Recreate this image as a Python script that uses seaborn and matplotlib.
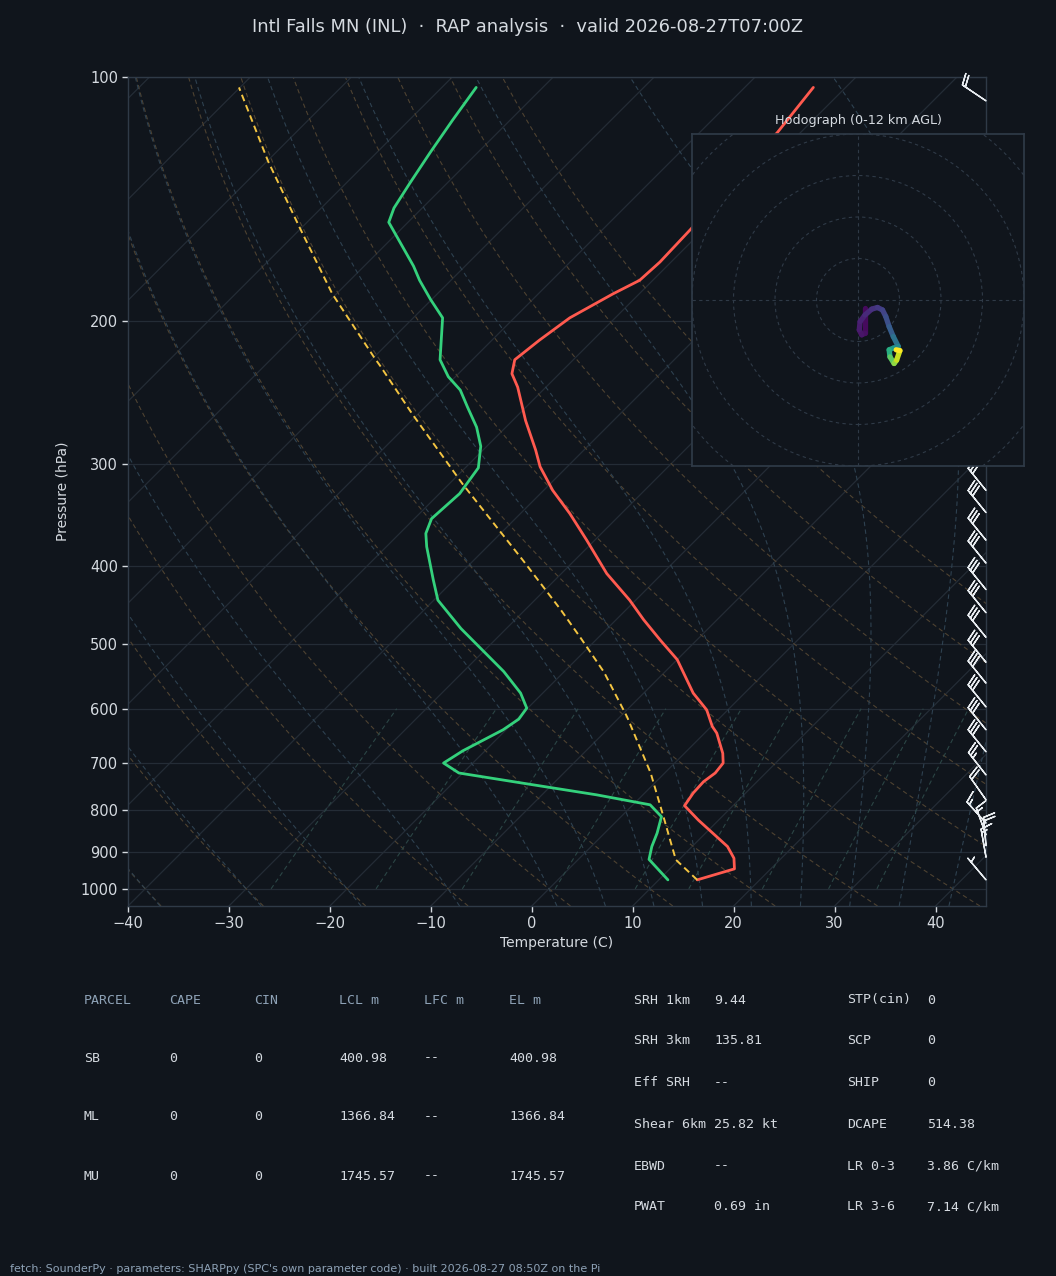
import numpy as np
import pandas as pd
import matplotlib
matplotlib.use("Agg")
import matplotlib.pyplot as plt
import seaborn as sns
from matplotlib.collections import LineCollection
from matplotlib.patches import Circle
from matplotlib.transforms import blended_transform_factory

# ---- colours ----
BG = "#10151c"
SPINE = "#2f3a47"
GRID = "#242c36"
DRY = "#4e4231"
MOIST = "#2e4150"
MIXING = "#2b4545"
TXT = "#d5dae0"
HEAD = "#8ea2b6"
RED = "#ff5a4f"
GREEN = "#34d17c"
YELLOW = "#f4c542"

# ---- sounding (pressure hPa, temperature C) ----
temp_p = [975, 945, 917, 887, 823, 790, 762, 738, 720, 700, 681, 643, 631, 602, 574,
          522, 494, 466, 441, 409, 372, 345, 323, 302, 288, 265, 241, 232, 223, 211,
          198, 185, 178, 169, 154, 117, 103]
temp_t = [13.8, 16.4, 15.3, 13.5, 8.0, 5.2, 4.8, 4.7, 5.0, 4.8, 3.8, 1.2, 0.1, -2.1, -5.1,
          -10.0, -13.6, -17.3, -20.6, -25.5, -30.8, -35.1, -39.1, -42.7, -44.8, -48.7, -52.8,
          -54.7, -55.8, -55.3, -54.5, -52.6, -51.3, -51.1, -51.3, -52.3, -53.2]

dewp_p = [975, 920, 887, 854, 815, 788, 766, 741, 720, 700, 676, 637, 618, 599, 574,
          540, 478, 441, 416, 379, 365, 350, 326, 303, 285, 270, 255, 243, 234, 223,
          215, 198, 188, 178, 171, 151, 145, 135, 124, 113, 103]
dewp_t = [10.9, 7.0, 6.0, 5.2, 4.0, 1.7, -4.6, -13.1, -20.4, -22.9, -22.2, -20.3, -19.8,
          -20.1, -22.2, -26.0, -34.5, -39.6, -42.1, -46.0, -47.4, -48.3, -48.0, -48.7,
          -50.6, -52.9, -55.8, -58.2, -60.7, -63.2, -64.4, -67.1, -70.1, -73.1, -75.1,
          -81.9, -82.8, -83.7, -84.7, -85.7, -86.6]

parcel_p = [975, 921, 887, 815, 720, 614, 541, 491, 453, 394, 317, 260, 227, 221, 185,
            153, 127, 103]
parcel_t = [13.8, 9.7, 8.0, 4.2, -1.4, -9.3, -16.0, -21.7, -26.5, -35.1, -48.7, -60.6,
            -68.5, -70.1, -80.4, -90.3, -99.9, -110.1]

# ---- wind barbs (pressure hPa, direction deg, speed kt) ----
barb_p = [107, 323, 344, 372, 397, 428, 457, 490, 526, 558, 597, 637, 678, 724, 777,
          830, 858, 885, 914, 975]
barb_dir = [304, 321, 321, 321, 321, 321, 321, 321, 321, 321, 321, 321, 321, 322, 325,
            318, 340, 355, 350, 320]
barb_spd = [20, 30, 30, 30, 30, 30, 30, 30, 30, 30, 30, 30, 30, 25, 20,
            15, 15, 20, 15, 5]

# ---- hodograph (u, v m/s, height km AGL) ----
hodo_u = [1.7, 1.7, 0.9, 0.3, 0.5, 1.7, 3.3, 4.7, 5.9, 6.7, 7.5, 8.5, 9.7, 8.5, 7.5,
          7.7, 8.7, 9.3, 10.1, 9.2]
hodo_v = [-2.0, -8.0, -8.4, -7.2, -5.2, -3.6, -2.2, -1.8, -2.4, -4.0, -6.4, -8.8, -11.2,
          -11.6, -12.0, -13.7, -15.3, -14.5, -12.2, -12.0]
hodo_z = [0.0, 0.3, 0.5, 0.7, 0.9, 1.1, 1.4, 1.7, 2.0, 2.4, 2.9, 3.5, 4.5, 5.5, 6.5,
          7.5, 9.0, 10.0, 11.0, 12.0]

# ---- background reference lines ----
isotherms = list(range(-120, 50, 10))
dry_t0 = list(range(-40, 91, 10))
moist_t0 = [-40, -30, -20, -10, 0, 5, 10, 15, 20, 25, 30, 35, 40, 45]
mix_ratios = [0.0004, 0.001, 0.002, 0.004, 0.007, 0.01, 0.016, 0.024, 0.032]

# ---- parameter tables ----
parcel_cols = ["PARCEL", "CAPE", "CIN", "LCL m", "LFC m", "EL m"]
parcel_rows = [["SB", "0", "0", "400.98", "--", "400.98"],
               ["ML", "0", "0", "1366.84", "--", "1366.84"],
               ["MU", "0", "0", "1745.57", "--", "1745.57"]]
index_left = [("SRH 1km", "9.44"), ("SRH 3km", "135.81"), ("Eff SRH", "--"),
              ("Shear 6km", "25.82 kt"), ("EBWD", "--"), ("PWAT", "0.69 in")]
index_right = [("STP(cin)", "0"), ("SCP", "0"), ("SHIP", "0"), ("DCAPE", "514.38"),
               ("LR 0-3", "3.86 C/km"), ("LR 3-6", "7.14 C/km")]

sns.set_theme(style="dark", rc={"axes.facecolor": BG, "figure.facecolor": BG,
                                 "axes.edgecolor": SPINE, "text.color": TXT,
                                 "axes.labelcolor": TXT, "xtick.color": TXT,
                                 "ytick.color": TXT, "axes.grid": False})
plt.rcParams["font.family"] = ["DejaVu Sans"]

W, H = 1056, 1276
fig = plt.figure(figsize=(W / 100, H / 100), dpi=100)
fig.patch.set_facecolor(BG)

# main skew-T axes, in pixels
L, R, TOP, BOT = 128, 986, 77, 906
ax = fig.add_axes([L / W, 1 - BOT / H, (R - L) / W, (BOT - TOP) / H])
P_BOT, P_TOP = 1050.0, 100.0
T_MIN, T_MAX = -40.0, 45.0
# 45 degree skew: horizontal shift per ln(p) equals vertical pixel distance
K = ((BOT - TOP) / np.log(P_BOT / P_TOP)) / ((R - L) / (T_MAX - T_MIN))


def skew(t, p):
    return np.asarray(t, dtype=float) + K * np.log(P_BOT / np.asarray(p, dtype=float))


ax.set_yscale("log")
pgrid = np.geomspace(P_BOT, P_TOP, 200)

for p in range(100, 1001, 100):
    ax.axhline(p, color=GRID, lw=0.9, zorder=1)
for t in isotherms:
    ax.plot(skew([t, t], [P_BOT, P_TOP]), [P_BOT, P_TOP], color=GRID, lw=0.9, zorder=1)

for t0 in dry_t0:
    tt = (t0 + 273.15) * (pgrid / 1000.0) ** 0.2857 - 273.15
    ax.plot(skew(tt, pgrid), pgrid, color=DRY, lw=0.8, ls=(0, (4, 3)), zorder=1)


def moist_profile(t0, pres):
    Rd, Cp, Lv, eps = 287.04, 1005.7, 2.501e6, 0.622

    def dtdp(T, p):
        es = 6.112 * np.exp(17.67 * (T - 273.15) / (T - 29.65))
        r = eps * es / (p - es)
        return (Rd * T + Lv * r) / (p * (Cp + Lv ** 2 * r * eps / (Rd * T ** 2)))

    out = []
    for seg in (pres[pres >= 1000][::-1], pres[pres <= 1000]):
        seg = np.concatenate([[1000.0], seg])
        T = t0 + 273.15
        vals = []
        for i in range(1, len(seg)):
            p0, h = seg[i - 1], seg[i] - seg[i - 1]
            k1 = dtdp(T, p0)
            k2 = dtdp(T + h * k1 / 2, p0 + h / 2)
            k3 = dtdp(T + h * k2 / 2, p0 + h / 2)
            k4 = dtdp(T + h * k3, p0 + h)
            T = T + h * (k1 + 2 * k2 + 2 * k3 + k4) / 6
            vals.append(T - 273.15)
        out.append(vals)
    lower = out[0][::-1]
    return np.array(lower + out[1])


pm = np.concatenate([np.linspace(1050, 1000, 6)[:-1], np.linspace(1000, 100, 300)[1:]])
for t0 in moist_t0:
    tt = moist_profile(t0, pm)
    ax.plot(skew(tt, pm), pm, color=MOIST, lw=0.8, ls=(0, (4, 3)), zorder=1)

pmix = np.linspace(1000, 600, 50)
for w in mix_ratios:
    e = w * pmix / (0.622 + w)
    lg = np.log(e / 6.112)
    td = 243.5 * lg / (17.67 - lg)
    ax.plot(skew(td, pmix), pmix, color=MIXING, lw=0.8, ls=(0, (4, 3)), zorder=1)

# profiles
prof = [(temp_p, temp_t, RED, 2.0, "-"), (dewp_p, dewp_t, GREEN, 2.0, "-"),
        (parcel_p, parcel_t, YELLOW, 1.4, (0, (3.5, 2.2)))]
for pp, tt, col, lw, ls in prof:
    df = pd.DataFrame({"x": skew(tt, pp), "p": pp})
    sns.lineplot(data=df, x="x", y="p", sort=False, estimator=None, color=col, lw=lw,
                 linestyle=ls, ax=ax, zorder=4)

# wind barbs on the right edge
bd = np.radians(barb_dir)
bu = -np.array(barb_spd) * np.sin(bd)
bv = -np.array(barb_spd) * np.cos(bd)
trans = blended_transform_factory(ax.transAxes, ax.transData)
ax.barbs(np.ones(len(barb_p)), barb_p, bu, bv, transform=trans, length=6.4,
         color="#e8ecf0", linewidth=1.0, clip_on=False, zorder=5)

ax.set_xlim(T_MIN, T_MAX)
ax.set_ylim(P_BOT, P_TOP)
ax.set_yticks(range(100, 1001, 100))
ax.set_yticklabels([str(p) for p in range(100, 1001, 100)])
ax.yaxis.set_minor_locator(matplotlib.ticker.NullLocator())
ax.set_xticks(range(-40, 41, 10))
ax.tick_params(axis="both", which="major", direction="out", length=4, width=1,
               colors=TXT, labelsize=10.5, pad=3, left=True, bottom=True)
ax.set_xlabel("Temperature (C)", fontsize=10, color=TXT, labelpad=4)
ax.set_ylabel("Pressure (hPa)", fontsize=10, color=TXT, labelpad=8)
for s in ax.spines.values():
    s.set_color(SPINE)
    s.set_linewidth(1.0)

# hodograph inset
hx = fig.add_axes([692 / W, 1 - 466 / H, 332 / W, 332 / H])
hx.set_facecolor(BG)
for r in range(10, 70, 10):
    hx.add_patch(Circle((0, 0), r, fill=False, ls=(0, (3, 3)), lw=0.8, ec=SPINE))
hx.axhline(0, color=SPINE, lw=0.8, ls=(0, (3, 3)))
hx.axvline(0, color=SPINE, lw=0.8, ls=(0, (3, 3)))
pts = np.array([hodo_u, hodo_v]).T.reshape(-1, 1, 2)
segs = np.concatenate([pts[:-1], pts[1:]], axis=1)
lc = LineCollection(segs, cmap="viridis", norm=plt.Normalize(0, 12), linewidths=3.8,
                    capstyle="round", joinstyle="round")
lc.set_array(np.array(hodo_z[1:]))
hx.add_collection(lc)
hx.set_xlim(-40, 40)
hx.set_ylim(-40, 40)
hx.set_xticks(np.arange(-37.5, 40, 12.5))
hx.set_yticks(range(-40, 41, 10))
hx.tick_params(labelbottom=False, labelleft=False, direction="out", length=4,
               width=1, colors=TXT)
for s in hx.spines.values():
    s.set_color(SPINE)
hx.set_title("Hodograph (0-12 km AGL)", fontsize=9.2, color=TXT, pad=7)

# header / footer
fig.text(0.5, 1 - 27 / H, "Intl Falls MN (INL)  \u00b7  RAP analysis  \u00b7  valid 2026-08-27T07:00Z",
         ha="center", va="center", fontsize=12.9, color=TXT)
fig.text(10 / W, 1 - 1269 / H,
         "fetch: SounderPy \u00b7 parameters: SHARPpy (SPC's own parameter code) \u00b7 built 2026-08-27 08:50Z on the Pi",
         ha="left", va="center", fontsize=8, color=HEAD)

mono = dict(family="DejaVu Sans Mono", fontsize=9.5, va="center", ha="left")
col_x = [84, 169, 254, 339, 424, 509]
row_y = [1000, 1058, 1117, 1176]
for cx, name in zip(col_x, parcel_cols):
    fig.text(cx / W, 1 - row_y[0] / H, name, color=HEAD, **mono)
for ry, row in zip(row_y[1:], parcel_rows):
    for cx, val in zip(col_x, row):
        fig.text(cx / W, 1 - ry / H, val, color=TXT, **mono)

idx_y = [1000, 1041, 1083, 1124, 1166, 1207]
for ry, (a, b), (c, d) in zip(idx_y, index_left, index_right):
    fig.text(634 / W, 1 - ry / H, a, color=TXT, **mono)
    fig.text(714 / W, 1 - ry / H, b, color=TXT, **mono)
    fig.text(847 / W, 1 - ry / H, c, color=TXT, **mono)
    fig.text(927 / W, 1 - ry / H, d, color=TXT, **mono)

fig.savefig("out.png", dpi=100, facecolor=BG)
